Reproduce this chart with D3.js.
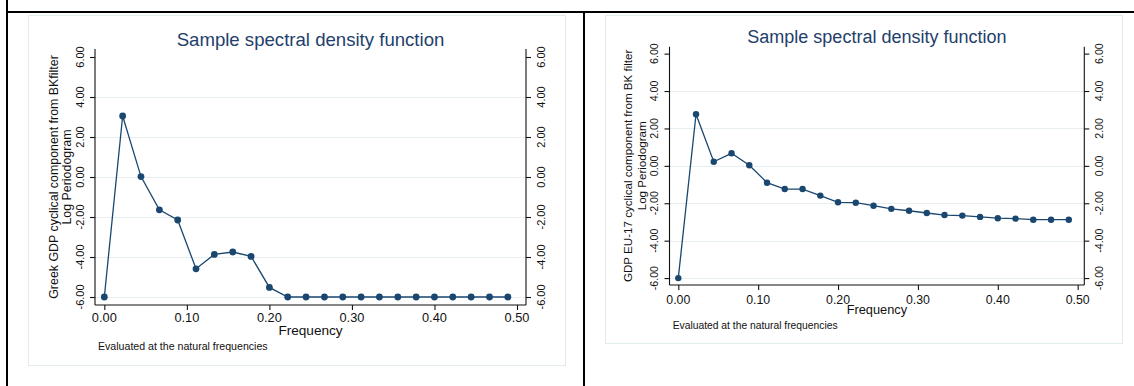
<!DOCTYPE html>
<html>
<head>
<meta charset="utf-8">
<script src="https://cdn.jsdelivr.net/npm/d3@7"></script>
<style>
  html, body { margin: 0; padding: 0; background: #fff; }
  svg { display: block; font-family: "Liberation Sans", Arial, sans-serif; }
</style>
</head>
<body>
<svg id="chart" width="1134" height="386"></svg>
<script>
// natural frequencies k/45
const frequencies = [0.0000, 0.0222, 0.0444, 0.0667, 0.0889, 0.1111, 0.1333, 0.1556, 0.1778, 0.2000,
  0.2222, 0.2444, 0.2667, 0.2889, 0.3111, 0.3333, 0.3556, 0.3778, 0.4000, 0.4222, 0.4444, 0.4667, 0.4889];

const greekLogPeriodogram = [-6.00, 3.05, 0.02, -1.64, -2.15, -4.59, -3.87, -3.75, -3.97, -5.52,
  -6.00, -6.00, -6.00, -6.00, -6.00, -6.00, -6.00, -6.00, -6.00, -6.00, -6.00, -6.00, -6.00];

const eu17LogPeriodogram = [-6.00, 2.76, 0.22, 0.67, 0.03, -0.90, -1.24, -1.24, -1.59, -1.95,
  -1.97, -2.13, -2.30, -2.40, -2.52, -2.63, -2.66, -2.73, -2.80, -2.82, -2.88, -2.88, -2.88];

const yTicks = [-6, -4, -2, 0, 2, 4, 6];
const xTicks = [0, 0.1, 0.2, 0.3, 0.4, 0.5];
const gridTicks = [-6, -4, -2, 0, 2, 4];

const chartTitle = 'Sample spectral density function';
const xTitle = 'Frequency';
const noteText = 'Evaluated at the natural frequencies';

const azulStata = '#1a476f';

const svg = d3.select('#chart');

// marco de la tabla
svg.append('line').attr('x1', 6).attr('x2', 1134).attr('y1', 12).attr('y2', 12)
  .attr('stroke', '#000').attr('stroke-width', 2);
svg.append('line').attr('x1', 7).attr('x2', 7).attr('y1', 0).attr('y2', 386)
  .attr('stroke', '#000').attr('stroke-width', 2);
svg.append('line').attr('x1', 584).attr('x2', 584).attr('y1', 12).attr('y2', 386)
  .attr('stroke', '#000').attr('stroke-width', 2);

function dibujarPanel(cfg) {
  const g = svg.append('g');

  g.append('rect')
    .attr('x', cfg.box[0] + 0.5).attr('y', cfg.box[1] + 0.5)
    .attr('width', cfg.box[2] - cfg.box[0]).attr('height', cfg.box[3] - cfg.box[1])
    .attr('fill', '#fff').attr('stroke', '#e2ebee');

  const x = d3.scaleLinear().domain(cfg.xDomain).range([cfg.left, cfg.right]);
  const y = d3.scaleLinear().domain(cfg.yDomain).range([cfg.bottom, cfg.top]);

  // rejilla
  g.selectAll('.grid').data(gridTicks).enter().append('line')
    .attr('x1', cfg.left).attr('x2', cfg.right)
    .attr('y1', d => Math.round(y(d)) + 0.5).attr('y2', d => Math.round(y(d)) + 0.5)
    .attr('stroke', '#e6eef0').attr('stroke-width', 1);

  // ejes
  const ejeIzq = d3.axisLeft(y).tickValues(yTicks).tickSize(5).tickFormat('');
  const ejeDer = d3.axisRight(y).tickValues(yTicks).tickSize(5).tickFormat('');
  const ejeX = d3.axisBottom(x).tickValues(xTicks).tickSize(5).tickFormat('');

  g.append('g').attr('transform', `translate(${cfg.left},0)`).call(ejeIzq)
    .call(s => s.select('.domain').attr('d', `M0,${cfg.top}V${cfg.bottom}`));
  g.append('g').attr('transform', `translate(${cfg.right},0)`).call(ejeDer)
    .call(s => s.select('.domain').attr('d', `M0,${cfg.top}V${cfg.bottom}`));
  g.append('g').attr('transform', `translate(0,${cfg.bottom})`).call(ejeX)
    .call(s => s.select('.domain').attr('d', `M${cfg.left},0H${cfg.right}`));
  g.selectAll('.domain, .tick line').attr('stroke', '#111').attr('stroke-width', 1.1);

  // etiquetas del eje Y (rotadas)
  [[cfg.left - cfg.yLabelGap], [cfg.right + cfg.yLabelGap]].forEach(([lx]) => {
    g.selectAll(null).data(yTicks).enter().append('text')
      .attr('transform', d => `translate(${lx},${y(d)}) rotate(-90)`)
      .attr('text-anchor', 'middle').attr('dy', '0.35em')
      .attr('font-size', cfg.yTickSize).attr('fill', '#111')
      .text(d => d3.format('.2f')(d).replace('−', '-'));
  });

  // etiquetas del eje X
  g.selectAll(null).data(xTicks).enter().append('text')
    .attr('x', d => x(d)).attr('y', cfg.xLabelY)
    .attr('text-anchor', 'middle').attr('font-size', cfg.xTickSize).attr('fill', '#111')
    .text(d => d3.format('.2f')(d));

  const centroX = (cfg.left + cfg.right) / 2;

  g.append('text').attr('x', centroX).attr('y', cfg.titleY)
    .attr('text-anchor', 'middle').attr('font-size', cfg.titleSize).attr('fill', '#23406c')
    .text(chartTitle);

  g.append('text').attr('x', centroX).attr('y', cfg.xTitleY)
    .attr('text-anchor', 'middle').attr('font-size', cfg.xTitleSize).attr('fill', '#111')
    .text(xTitle);

  g.append('text').attr('x', cfg.noteX).attr('y', cfg.noteY)
    .attr('font-size', cfg.noteSize).attr('fill', '#111')
    .text(noteText);

  const centroY = (cfg.top + cfg.bottom) / 2;
  g.append('text')
    .attr('transform', `translate(${cfg.yTitleX1},${centroY}) rotate(-90)`)
    .attr('text-anchor', 'middle').attr('dy', '0.35em')
    .attr('font-size', cfg.yTitleSize).attr('fill', '#111')
    .text(cfg.yTitle);
  g.append('text')
    .attr('transform', `translate(${cfg.yTitleX2},${centroY}) rotate(-90)`)
    .attr('text-anchor', 'middle').attr('dy', '0.35em')
    .attr('font-size', cfg.yTitleSize).attr('fill', '#111')
    .text('Log Periodogram');

  // serie
  const puntos = frequencies.map((f, i) => [f, cfg.values[i]]);
  g.append('path').datum(puntos)
    .attr('fill', 'none').attr('stroke', azulStata).attr('stroke-width', 1.3)
    .attr('d', d3.line().x(d => x(d[0])).y(d => y(d[1])));
  g.selectAll('.punto').data(puntos).enter().append('circle')
    .attr('cx', d => x(d[0])).attr('cy', d => y(d[1])).attr('r', cfg.markerR)
    .attr('fill', azulStata);
}

dibujarPanel({
  box: [28, 15, 565, 365],
  left: 95, right: 526, top: 49, bottom: 305,
  xDomain: [-0.0113, 0.5109], yDomain: [-6.4, 6.4],
  values: greekLogPeriodogram,
  yTitle: 'Greek GDP cyclical component from BKfilter',
  yLabelGap: 15, yTickSize: 11, xTickSize: 12.8, xLabelY: 322,
  titleY: 46, titleSize: 18.6, xTitleY: 335, xTitleSize: 13.6,
  noteX: 98, noteY: 349.5, noteSize: 10.6,
  yTitleX1: 53.3, yTitleX2: 66.7, yTitleSize: 12.4, markerR: 3.4
});

dibujarPanel({
  box: [605, 15, 1122, 343],
  left: 669.5, right: 1084.3, top: 46.7, bottom: 285,
  xDomain: [-0.011, 0.5083], yDomain: [-6.37, 6.37],
  values: eu17LogPeriodogram,
  yTitle: 'GDP EU-17 cyclical component from BK filter',
  yLabelGap: 15, yTickSize: 10.6, xTickSize: 12.3, xLabelY: 303.5,
  titleY: 43, titleSize: 18, xTitleY: 314, xTitleSize: 12.8,
  noteX: 672.7, noteY: 328.7, noteSize: 10.3,
  yTitleX1: 628.3, yTitleX2: 641.7, yTitleSize: 11.6, markerR: 3.2
});
</script>
</body>
</html>
